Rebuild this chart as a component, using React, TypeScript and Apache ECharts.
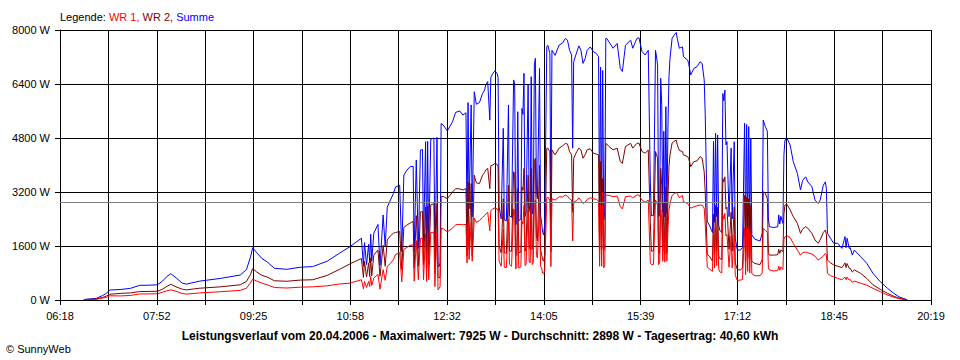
import React, { useEffect, useRef } from "react";
import * as echarts from "echarts";

// X axis: 06:18 .. 20:19 split into 18 equal grid steps, label on every second one
const timeLabels = ["06:18", "07:52", "09:25", "10:58", "12:32", "14:05", "15:39", "17:12", "18:45", "20:19"];
const START_MIN = 378; // 06:18
const END_MIN = 1219; // 20:19
const GRID_STEPS = 18;

const yMax = 8000;
const yStep = 1600;
const average = 2898;

const legendTitle = "Legende:";
const seriesNames = ["WR 1", "WR 2", "Summe"];
const footerText =
  "Leistungsverlauf vom 20.04.2006 - Maximalwert: 7925 W - Durchschnitt: 2898 W - Tagesertrag: 40,60 kWh";
const copyrightText = "\u00A9 SunnyWeb";

// minutes of day
const times = [
  401, 413, 419, 423, 426, 436, 446, 455, 465, 472,
  477, 481, 485, 490, 496, 500, 513, 533, 552, 558,
  562, 564, 568, 573, 578, 585, 597, 610, 622, 636,
  648, 658, 669, 671, 672, 674, 676, 677, 678, 679,
  681, 685, 687, 690, 692, 694, 697, 700, 702, 706,
  708, 710, 713, 716, 719, 720, 722, 724, 726, 728,
  729, 731, 732, 733, 734, 736, 739, 740, 742, 743,
  744, 745, 746, 748, 752, 757, 760, 764, 767, 770,
  771, 772, 773, 775, 776, 778, 780, 783, 786, 788,
  789, 791, 793, 794, 796, 798, 800, 801, 802, 804,
  806, 807, 809, 811, 812, 814, 816, 817, 818, 819,
  820, 821, 823, 824, 825, 826, 827, 828, 830, 831,
  832, 833, 834, 835, 836, 837, 838, 839, 841, 842,
  843, 844, 845, 846, 848, 849, 851, 852, 853, 856,
  860, 863, 866, 868, 870, 872, 873, 874, 877, 879,
  881, 883, 885, 887, 890, 893, 896, 898, 899, 900,
  901, 902, 903, 904, 905, 906, 908, 912, 916, 919,
  921, 924, 929, 931, 935, 937, 940, 943, 946, 948,
  949, 951, 953, 954, 955, 956, 957, 958, 959, 960,
  961, 962, 963, 964, 965, 966, 967, 969, 971, 973,
  974, 976, 979, 980, 984, 985, 987, 990, 993, 996,
  998, 1000, 1001, 1003, 1005, 1008, 1009, 1010, 1011, 1012,
  1013, 1014, 1015, 1017, 1018, 1019, 1020, 1021, 1022, 1024,
  1026, 1027, 1029, 1030, 1032, 1035, 1037, 1039, 1040, 1041,
  1042, 1043, 1044, 1045, 1046, 1049, 1054, 1056, 1057, 1059,
  1061, 1062, 1063, 1067, 1071, 1072, 1073, 1074, 1076, 1077,
  1078, 1080, 1083, 1086, 1090, 1093, 1095, 1098, 1100, 1104,
  1107, 1110, 1112, 1115, 1117, 1118, 1119, 1122, 1125, 1129,
  1133, 1136, 1137, 1138, 1140, 1141, 1143, 1145, 1151, 1157,
  1163, 1170, 1177, 1183, 1189, 1194, 1196,
];

const wr1 = [
  5, 20, 55, 80, 125, 120, 135, 180, 180, 185,
  230, 270, 300, 260, 190, 175, 210, 245, 285, 350,
  510, 620, 560, 500, 450, 370, 355, 380, 390, 420,
  475, 500, 600, 330, 550, 370, 550, 400, 700, 430,
  650, 760, 320, 900, 580, 1000, 1080, 1200, 1350, 1400,
  540, 1500, 1560, 1620, 1630, 560, 1760, 600, 1820, 1830,
  600, 1960, 550, 1980, 600, 2000, 2010, 400, 2020, 300,
  340, 400, 2120, 2110, 2020, 2130, 2230, 2240, 2230, 2240,
  1100, 2300, 1200, 2300, 1150, 2430, 2300, 2350, 2450, 2500,
  2550, 2600, 2050, 2650, 2700, 2730, 2700, 2650, 1150, 1000,
  2100, 970, 960, 2380, 1050, 1000, 2700, 2650, 920, 950,
  2280, 950, 980, 2330, 2250, 2800, 1020, 1050, 2670, 1150,
  1100, 2717, 1050, 1100, 2860, 2960, 1310, 1250, 2860, 1000,
  950, 800, 780, 870, 3010, 3050, 2950, 990, 3000, 2960,
  3060, 3050, 3110, 3080, 3000, 2960, 1750, 2900, 2950, 3030,
  2950, 2860, 2900, 2980, 3030, 3000, 2980, 2930, 1000, 2800,
  1000, 3200, 950, 1050, 3110, 3110, 3100, 3060, 3080, 2770,
  2700, 3060, 3080, 3030, 3110, 3110, 2960, 2900, 2960, 1100,
  1050, 1050, 2960, 2900, 2800, 1050, 1100, 2670, 2400, 1150,
  2100, 1120, 2380, 1150, 2100, 2670, 2860, 3100, 3150, 3185,
  3150, 3030, 3100, 2910, 2860, 2810, 2720, 2760, 2790, 2810,
  2810, 2720, 2250, 970, 920, 850, 2150, 950, 2140, 1020,
  2140, 920, 840, 800, 2520, 2400, 2570, 1900, 1940, 970,
  1900, 950, 1940, 730, 580, 590, 610, 2140, 750, 2150,
  850, 2140, 800, 2000, 780, 720, 720, 800, 2120, 2070,
  2000, 950, 890, 860, 870, 1000, 880, 980, 900, 1800,
  1877, 1900, 1850, 1680, 1480, 1330, 1400, 1420, 1400, 1360,
  1300, 1185, 1230, 1300, 1380, 1350, 790, 720, 690, 640,
  600, 680, 600, 680, 590, 610, 520, 560, 500, 440,
  345, 247, 148, 85, 35, 12, 5,
];

const wr2 = [
  10, 30, 75, 120, 170, 195, 210, 250, 255, 260,
  320, 400, 465, 390, 320, 300, 350, 390, 450, 550,
  760, 930, 830, 730, 680, 570, 555, 590, 600, 730,
  910, 1070, 1230, 670, 1150, 680, 1100, 700, 1250, 720,
  1330, 1480, 700, 1620, 1000, 1780, 1900, 1980, 2000, 2030,
  900, 2150, 2220, 2280, 2330, 950, 2500, 1000, 2610, 2620,
  1050, 2760, 950, 2780, 1050, 2820, 2850, 800, 2860, 700,
  650, 700, 3060, 3070, 3000, 3200, 3300, 3290, 3260, 3300,
  1300, 3500, 1500, 3450, 1300, 3700, 3470, 3450, 3700, 3780,
  3850, 3900, 3300, 3980, 4000, 4050, 4020, 3950, 1600, 1400,
  3000, 1400, 1380, 3400, 1450, 1450, 3800, 3750, 1300, 1350,
  3300, 1400, 1420, 3350, 3250, 3900, 1450, 1550, 3700, 1650,
  1500, 3900, 1500, 1600, 4100, 4200, 1900, 1750, 4000, 1500,
  1350, 1200, 1150, 1350, 4490, 4500, 4400, 1430, 4450, 4300,
  4500, 4560, 4640, 4620, 4400, 4300, 2600, 4200, 4400, 4500,
  4450, 4200, 4300, 4450, 4480, 4350, 4320, 4300, 1500, 4100,
  1500, 3600, 1450, 1600, 4640, 4620, 4550, 4450, 4500, 4100,
  4050, 4550, 4640, 4500, 4640, 4650, 4400, 4350, 4440, 2300,
  1450, 1450, 4400, 4300, 4200, 1400, 1380, 3900, 3400, 1450,
  2900, 1350, 3350, 1400, 3000, 3950, 4300, 4650, 4700, 4740,
  4600, 4430, 4400, 4300, 4250, 4200, 3950, 4100, 4120, 4250,
  4200, 3800, 3200, 1350, 1300, 1150, 2550, 1350, 2800, 1450,
  2750, 1300, 1230, 1200, 3600, 3500, 3650, 2700, 2750, 1500,
  2600, 1450, 2750, 1100, 900, 890, 950, 3100, 1150, 3050,
  1250, 3000, 1200, 2800, 1150, 1080, 1050, 1200, 3210, 3160,
  3000, 1400, 1330, 1330, 1340, 1500, 1380, 1480, 1430, 2550,
  2815, 2830, 2670, 2470, 2270, 1975, 2100, 2172, 2130, 1975,
  1778, 1680, 1780, 2000, 2074, 1950, 1185, 1100, 1040, 1000,
  960, 1100, 960, 1080, 940, 940, 830, 890, 790, 640,
  450, 316, 198, 110, 45, 18, 5,
];

const summe = [
  15, 50, 130, 200, 296, 310, 345, 435, 440, 450,
  560, 690, 780, 660, 500, 470, 560, 640, 740, 900,
  1280, 1550, 1400, 1230, 1130, 940, 910, 970, 990, 1150,
  1390, 1580, 1830, 1000, 1700, 1050, 1650, 1100, 1950, 1150,
  1980, 2240, 1020, 2520, 1580, 2750, 2960, 3160, 3350, 3400,
  1430, 3700, 3850, 3950, 3960, 1430, 4150, 1530, 4440, 4460,
  1600, 4690, 1500, 4700, 1600, 4760, 4800, 1200, 4820, 1000,
  990, 1100, 5230, 5185, 5010, 5280, 5560, 5600, 5480, 5550,
  2450, 5850, 2700, 5780, 2470, 6170, 5800, 5850, 6120, 6220,
  6370, 6470, 5330, 6600, 6716, 6790, 6716, 6600, 2760, 2400,
  5086, 2370, 2350, 5780, 2500, 2450, 6520, 6400, 2220, 2300,
  5580, 2350, 2400, 5680, 5500, 6716, 2470, 2600, 6370, 2800,
  2600, 6617, 2550, 2700, 6960, 7160, 3210, 3000, 6860, 2500,
  2300, 2000, 1930, 2220, 7500, 7550, 7310, 2430, 7400, 7250,
  7555, 7605, 7750, 7700, 7400, 7260, 4500, 7060, 7350, 7530,
  7400, 7010, 7150, 7400, 7500, 7360, 7300, 7210, 2400, 6900,
  2470, 6800, 2370, 2600, 7750, 7750, 7650, 7460, 7600, 6860,
  6770, 7550, 7700, 7460, 7750, 7770, 7360, 7260, 7400, 3500,
  2500, 2500, 7400, 7200, 6960, 2470, 2500, 6570, 5800, 2600,
  5000, 2470, 5730, 2550, 5100, 6620, 7160, 7750, 7850, 7925,
  7750, 7460, 7500, 7210, 7110, 7010, 6670, 6860, 6910, 7060,
  7010, 6520, 5500, 2320, 2220, 2000, 4700, 2300, 4940, 2470,
  4890, 2220, 2070, 2000, 6120, 5900, 6220, 4600, 4690, 2470,
  4500, 2400, 4690, 1830, 1480, 1480, 1560, 5240, 1900, 5200,
  2100, 5140, 2000, 4800, 1930, 1800, 1750, 1975, 5330, 5140,
  5000, 2400, 2170, 2150, 2170, 2520, 2250, 2480, 2270, 4300,
  4740, 4790, 4590, 4100, 3750, 3260, 3540, 3650, 3500, 3360,
  2960, 2860, 2960, 3400, 3500, 3300, 1975, 1827, 1680, 1680,
  1530, 1880, 1550, 1830, 1530, 1550, 1330, 1480, 1284, 1086,
  790, 543, 346, 198, 79, 30, 10,
];

const colors = { wr1: "#ff0000", wr2: "#800000", summe: "#0000ff" };
const FONT = "'Liberation Sans', Arial, sans-serif";

const stepMinutes = (END_MIN - START_MIN) / GRID_STEPS;
const toAxis = (m: number) => (m - START_MIN) / stepMinutes;

function build(values: number[]) {
  return times.map((t, i) => [toAxis(t), values[i]]);
}

export default function App() {
  const ref = useRef<HTMLDivElement | null>(null);

  useEffect(() => {
    if (!ref.current) return;
    const chart = echarts.init(ref.current, undefined, { renderer: "svg" });
    const lineSeries = (name: string, values: number[], color: string, extra: any = {}) => ({
      name,
      type: "line",
      data: build(values),
      showSymbol: false,
      symbol: "none",
      smooth: false,
      lineStyle: { color, width: 1 },
      itemStyle: { color },
      emphasis: { disabled: true },
      silent: true,
      ...extra,
    });

    chart.setOption({
      animation: false,
      backgroundColor: "#ffffff",
      textStyle: { fontFamily: FONT },
      title: [
        {
          text: `{k|${legendTitle} }{a|${seriesNames[0]}, }{b|${seriesNames[1]}, }{c|${seriesNames[2]}}`,
          left: 55,
          top: 6,
          textStyle: {
            fontSize: 11,
            fontWeight: "normal",
            rich: {
              k: { color: "#000", fontSize: 11, fontFamily: FONT },
              a: { color: colors.wr1, fontSize: 11, fontFamily: FONT },
              b: { color: colors.wr2, fontSize: 11, fontFamily: FONT },
              c: { color: colors.summe, fontSize: 11, fontFamily: FONT },
            },
          },
        },
        {
          text: footerText,
          left: "center",
          top: 325,
          textStyle: { fontSize: 12, fontWeight: "bold", color: "#000", fontFamily: FONT },
        },
        {
          text: copyrightText,
          left: 1,
          top: 338,
          textStyle: { fontSize: 11, fontWeight: "normal", color: "#000", fontFamily: FONT },
        },
      ],
      grid: { left: 60, right: 29, top: 30, bottom: 60, containLabel: false },
      xAxis: {
        type: "value",
        min: 0,
        max: GRID_STEPS,
        interval: 1,
        axisLine: { show: true, onZero: false, lineStyle: { color: "#000", width: 1 } },
        axisTick: { show: true, length: 5, lineStyle: { color: "#000", width: 1 } },
        axisLabel: {
          color: "#000",
          fontSize: 11,
          fontFamily: FONT,
          margin: 10,
          showMinLabel: true,
          showMaxLabel: true,
          formatter: (v: number) => {
            const k = Math.round(v);
            return k % 2 === 0 ? timeLabels[k / 2] ?? "" : "";
          },
        },
        splitLine: { show: true, lineStyle: { color: "#000", width: 1 } },
      },
      yAxis: {
        type: "value",
        min: 0,
        max: yMax,
        interval: yStep,
        axisLine: { show: true, lineStyle: { color: "#000", width: 1 } },
        axisTick: { show: true, length: 5, lineStyle: { color: "#000", width: 1 } },
        axisLabel: {
          color: "#000",
          fontSize: 11,
          fontFamily: FONT,
          margin: 10,
          formatter: (v: number) => `${Math.round(v)} W`,
        },
        splitLine: { show: true, lineStyle: { color: "#000", width: 1 } },
      },
      series: [
        lineSeries(seriesNames[2], summe, colors.summe, { z: 2 }),
        lineSeries(seriesNames[1], wr2, colors.wr2, { z: 3 }),
        lineSeries(seriesNames[0], wr1, colors.wr1, {
          z: 4,
          markLine: {
            silent: true,
            symbol: ["none", "none"],
            label: { show: false },
            lineStyle: { color: "#808080", type: "solid", width: 1 },
            data: [{ yAxis: average }],
          },
        }),
      ],
    });
    return () => chart.dispose();
  }, []);

  return (
    <div
      ref={ref}
      style={{ position: "fixed", left: 0, top: 0, width: 960, height: 360, background: "#fff" }}
    />
  );
}
